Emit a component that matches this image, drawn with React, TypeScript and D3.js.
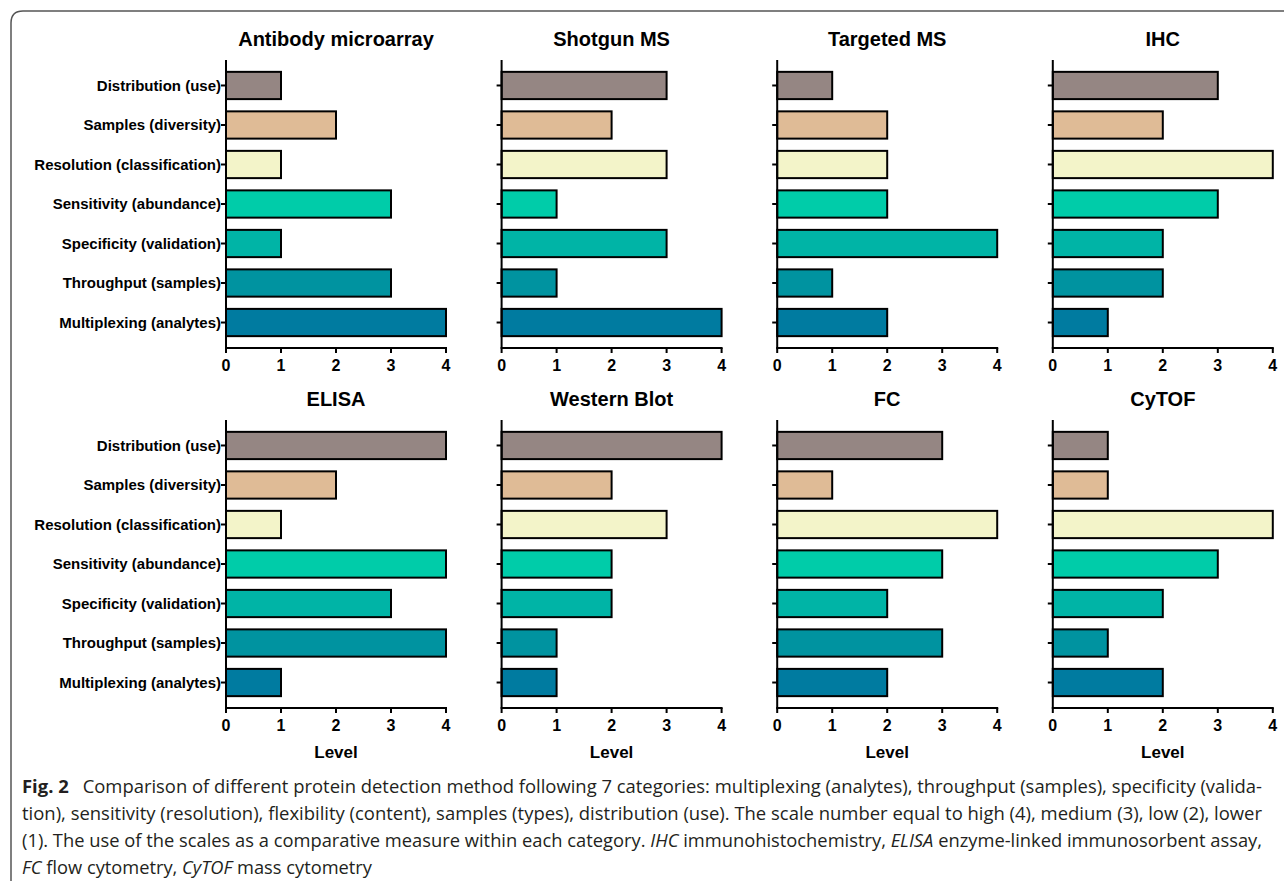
import React from "react";
import * as d3 from "d3";

const categories = [
  "Distribution (use)",
  "Samples (diversity)",
  "Resolution (classification)",
  "Sensitivity (abundance)",
  "Specificity (validation)",
  "Throughput (samples)",
  "Multiplexing (analytes)",
];

const categoryColors = ["#958683", "#dfbb96", "#f3f4c9", "#00cca9", "#00b4a6", "#0093a0", "#007ba0"];

const methods = [
  "Antibody microarray",
  "Shotgun MS",
  "Targeted MS",
  "IHC",
  "ELISA",
  "Western Blot",
  "FC",
  "CyTOF",
];

const antibodyMicroarray = [1, 2, 1, 3, 1, 3, 4];
const shotgunMS = [3, 2, 3, 1, 3, 1, 4];
const targetedMS = [1, 2, 2, 2, 4, 1, 2];
const ihc = [3, 2, 4, 3, 2, 2, 1];
const elisa = [4, 2, 1, 4, 3, 4, 1];
const westernBlot = [4, 2, 3, 2, 2, 1, 1];
const fc = [3, 1, 4, 3, 2, 3, 2];
const cytof = [1, 1, 4, 3, 2, 1, 2];

const seriesValues = [antibodyMicroarray, shotgunMS, targetedMS, ihc, elisa, westernBlot, fc, cytof];

const xTicks = [0, 1, 2, 3, 4];
const axisTitle = "Level";

const FONT = "'Liberation Sans', Arial, sans-serif";
const CAP_FONT = "'Open Sans', 'Noto Sans', sans-serif";

const PLOT_W = 220;
const PLOT_TOP = 60;
const PLOT_BOTTOM = 348;
const COL_X0 = 226;
const COL_STEP = 275.6;
const ROW_STEP = 360;

const x = d3.scaleLinear().domain([0, 4]).range([0, PLOT_W]);
const y = d3
  .scaleBand<string>()
  .domain(categories)
  .range([0, PLOT_BOTTOM - PLOT_TOP])
  .paddingInner(0.31)
  .paddingOuter(0.3);

function Panel({ idx }: { idx: number }) {
  const col = idx % 4;
  const row = Math.floor(idx / 4);
  const tx = COL_X0 + col * COL_STEP;
  const ty = PLOT_TOP + row * ROW_STEP;
  const h = PLOT_BOTTOM - PLOT_TOP;
  const vals = seriesValues[idx];
  return (
    <g transform={`translate(${tx},${ty})`}>
      <text
        x={PLOT_W / 2}
        y={-14}
        textAnchor="middle"
        fontFamily={FONT}
        fontWeight="bold"
        fontSize={20}
        fill="#000"
      >
        {methods[idx]}
      </text>
      {categories.map((c, i) => (
        <rect
          key={c}
          x={x(0)}
          y={y(c)}
          width={x(vals[i]) - x(0)}
          height={y.bandwidth()}
          fill={categoryColors[i]}
          stroke="#000"
          strokeWidth={2}
        />
      ))}
      <line x1={0} x2={0} y1={0} y2={h} stroke="#000" strokeWidth={2} />
      {categories.map((c) => {
        const cy = (y(c) as number) + y.bandwidth() / 2;
        return (
          <g key={c}>
            <line x1={-5} x2={0} y1={cy} y2={cy} stroke="#000" strokeWidth={2} />
            {col === 0 && (
              <text
                x={-5}
                y={cy}
                dy="0.35em"
                textAnchor="end"
                fontFamily={FONT}
                fontWeight="bold"
                fontSize={15}
                fill="#000"
              >
                {c}
              </text>
            )}
          </g>
        );
      })}
      <line x1={-1} x2={PLOT_W + 1} y1={h} y2={h} stroke="#000" strokeWidth={2} />
      {xTicks.map((t) => (
        <g key={t}>
          <line x1={x(t)} x2={x(t)} y1={h} y2={h + 5} stroke="#000" strokeWidth={2} />
          <text
            x={x(t)}
            y={h + 23}
            textAnchor="middle"
            fontFamily={FONT}
            fontWeight="bold"
            fontSize={16}
            fill="#000"
          >
            {t}
          </text>
        </g>
      ))}
      {row === 1 && (
        <text
          x={PLOT_W / 2}
          y={h + 50}
          textAnchor="middle"
          fontFamily={FONT}
          fontWeight="bold"
          fontSize={17}
          fill="#000"
        >
          {axisTitle}
        </text>
      )}
    </g>
  );
}

export default function App() {
  const capX = 22;
  const capW = 1240;
  const capY = [793, 820, 847, 874];
  const capStyle = { fontFamily: CAP_FONT, fontSize: 17.5, fill: "#231f20" } as const;
  return (
    <svg
      width={1284}
      height={881}
      style={{ position: "absolute", left: 0, top: 0, background: "#fff" }}
    >
      <rect width={1284} height={881} fill="#fff" />
      <path d="M11,885 L11,23 Q11,11 23,11 L1290,11" fill="none" stroke="#555" strokeWidth={1.5} />
      {methods.map((m, i) => (
        <Panel key={m} idx={i} />
      ))}
      <text x={capX} y={capY[0]} textLength={capW} lengthAdjust="spacingAndGlyphs" {...capStyle}>
        <tspan fontWeight="bold">Fig. 2</tspan>
        <tspan>{"\u2002 Comparison of different protein detection method following 7 categories: multiplexing (analytes), throughput (samples), specificity (valida-"}</tspan>
      </text>
      <text x={capX} y={capY[1]} textLength={capW} lengthAdjust="spacingAndGlyphs" {...capStyle}>
        tion), sensitivity (resolution), flexibility (content), samples (types), distribution (use). The scale number equal to high (4), medium (3), low (2), lower
      </text>
      <text x={capX} y={capY[2]} textLength={capW} lengthAdjust="spacingAndGlyphs" {...capStyle}>
        <tspan>(1). The use of the scales as a comparative measure within each category. </tspan>
        <tspan fontStyle="italic">IHC</tspan>
        <tspan> immunohistochemistry, </tspan>
        <tspan fontStyle="italic">ELISA</tspan>
        <tspan> enzyme-linked immunosorbent assay,</tspan>
      </text>
      <text x={capX} y={capY[3]} textLength={350} lengthAdjust="spacingAndGlyphs" {...capStyle}>
        <tspan fontStyle="italic">FC</tspan>
        <tspan> flow cytometry, </tspan>
        <tspan fontStyle="italic">CyTOF</tspan>
        <tspan> mass cytometry</tspan>
      </text>
    </svg>
  );
}
